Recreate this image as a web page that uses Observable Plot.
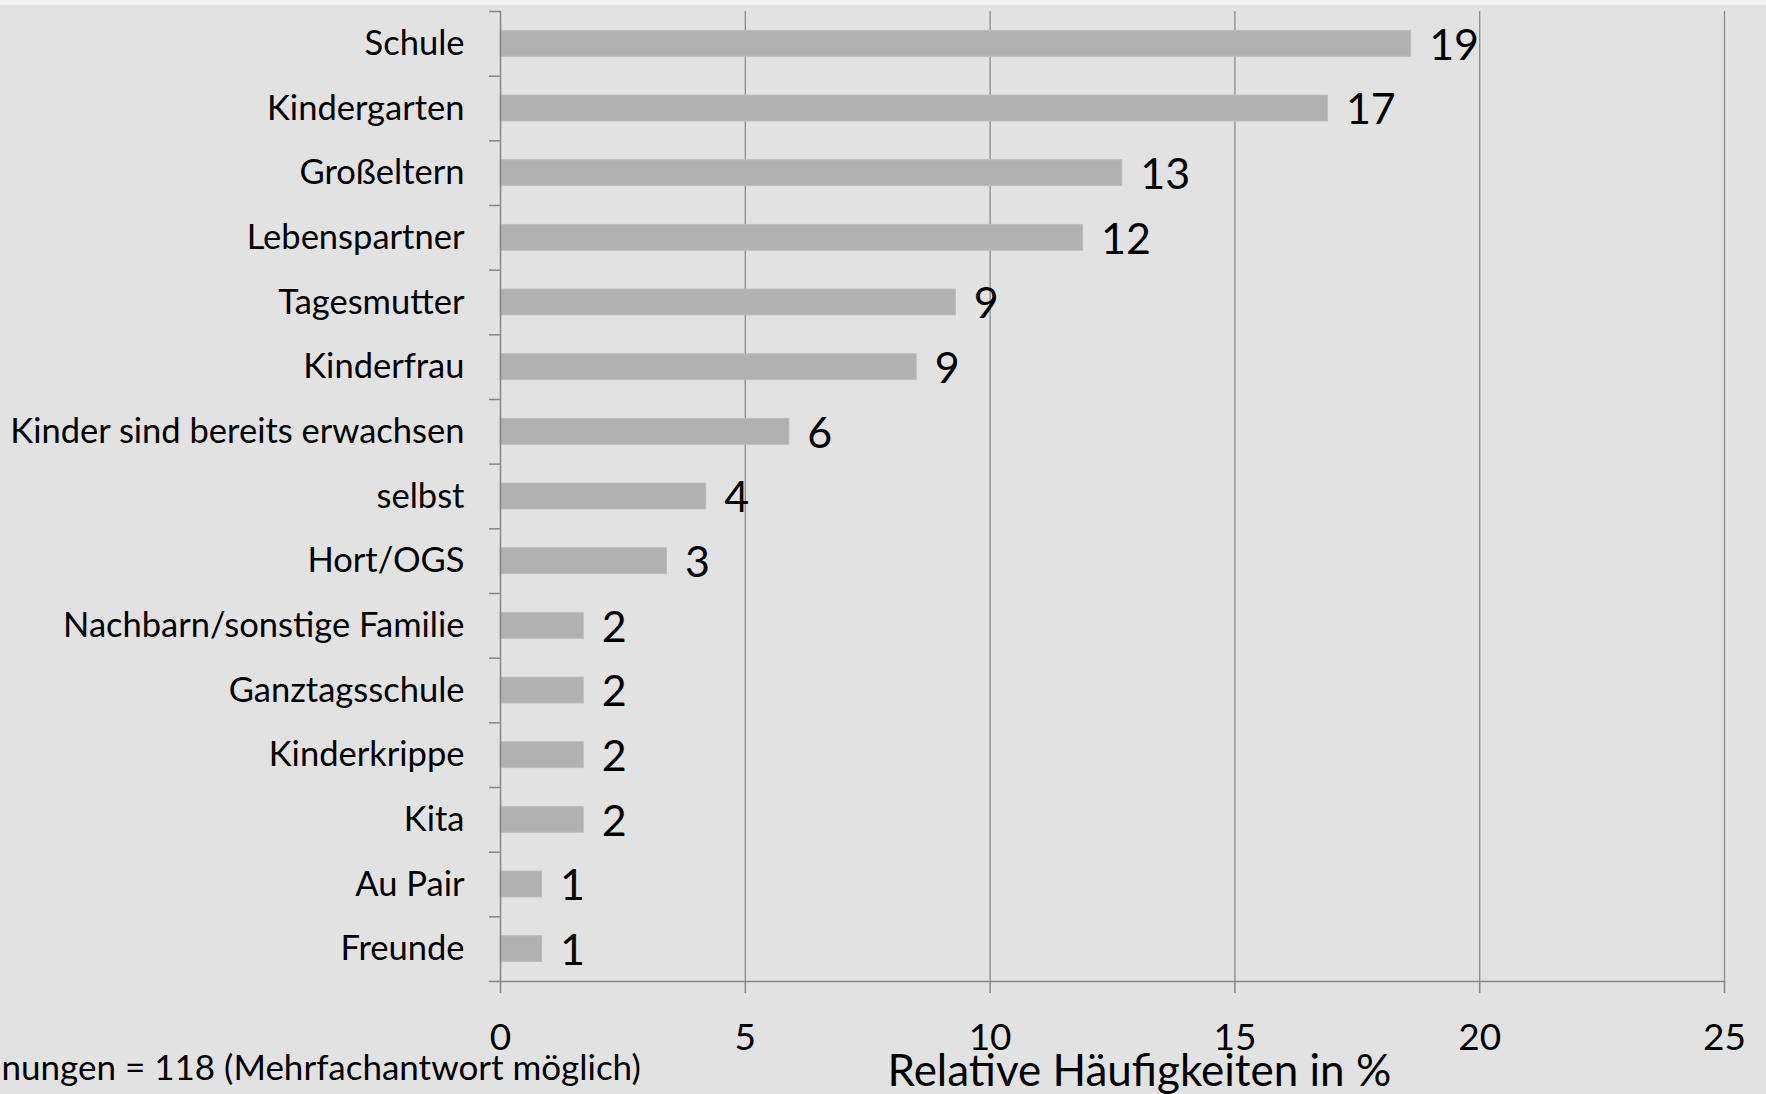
<!DOCTYPE html>
<html>
<head>
<meta charset="utf-8">
<script src="https://cdn.jsdelivr.net/npm/d3@7"></script>
<script src="https://cdn.jsdelivr.net/npm/@observablehq/plot@0.6"></script>
<style>
  html, body { margin: 0; padding: 0; background: #e2e2e2; }
  #chart svg { display: block; }
</style>
</head>
<body>
<div id="chart"></div>
<script>
const categories = [
  "Schule", "Kindergarten", "Großeltern", "Lebenspartner", "Tagesmutter",
  "Kinderfrau", "Kinder sind bereits erwachsen", "selbst", "Hort/OGS",
  "Nachbarn/sonstige Familie", "Ganztagsschule", "Kinderkrippe", "Kita",
  "Au Pair", "Freunde"
];
const values = [18.6, 16.9, 12.7, 11.9, 9.3, 8.5, 5.9, 4.2, 3.4, 1.7, 1.7, 1.7, 1.7, 0.85, 0.85];
const valueLabels = ["19", "17", "13", "12", "9", "9", "6", "4", "3", "2", "2", "2", "2", "1", "1"];
const xTicks = [0, 5, 10, 15, 20, 25];
const xTitle = "Relative Häufigkeiten in %";
const footnote = "nungen = 118 (Mehrfachantwort möglich)";

const data = categories.map((c, i) => ({cat: c, value: values[i], label: valueLabels[i]}));

const H = 1094, mTop = 11, mBottom = 113;
const step = (H - mTop - mBottom) / categories.length;
const axisColor = "#868686";

const chart = Plot.plot({
  width: 1766,
  height: H,
  marginLeft: 500,
  marginRight: 42,
  marginTop: mTop,
  marginBottom: mBottom,
  style: {
    background: "linear-gradient(#f3f3f3 0px, #f3f3f3 5px, #e2e2e2 5px)",
    fontFamily: "Lato, 'Open Sans', sans-serif",
    color: "#000"
  },
  x: {domain: [0, 25], ticks: xTicks},
  y: {domain: categories, paddingInner: 0.6, paddingOuter: 0.3, round: false},
  marks: [
    Plot.gridX({ticks: xTicks.slice(1), stroke: "#8a8a8a", strokeOpacity: 1, strokeWidth: 1.3}),
    Plot.barX(data, {x: "value", y: "cat", fill: "#b1b1b1", stroke: "#bcbcbc", strokeWidth: 1}),
    Plot.text(data, {x: "value", y: "cat", text: "label", textAnchor: "start", dx: 18, dy: 2, fontSize: 43, fill: "#000"}),
    Plot.axisY({tickSize: 0, tickPadding: 36, fontSize: 34.5, label: null, fill: "#000"}),
    Plot.axisY({tickSize: 11, tickFormat: () => "", label: null, stroke: axisColor, strokeWidth: 1.5, dy: -step / 2}),
    Plot.frame({anchor: "left", stroke: axisColor, strokeWidth: 1.5}),
    Plot.frame({anchor: "bottom", stroke: axisColor, strokeWidth: 1.5, insetLeft: -11}),
    Plot.axisX({ticks: xTicks, tickSize: 12, tickPadding: 30, fontSize: 37, label: null, stroke: axisColor, strokeWidth: 1.5, fill: "#000"}),
    Plot.text([footnote], {frameAnchor: "bottom-left", textAnchor: "start", dx: -499, dy: 98, fontSize: 35, fill: "#000"}),
    Plot.text([xTitle], {frameAnchor: "bottom-left", textAnchor: "start", dx: 387, dy: 104, fontSize: 44, fill: "#000"})
  ]
});
document.getElementById("chart").appendChild(chart);
</script>
</body>
</html>
